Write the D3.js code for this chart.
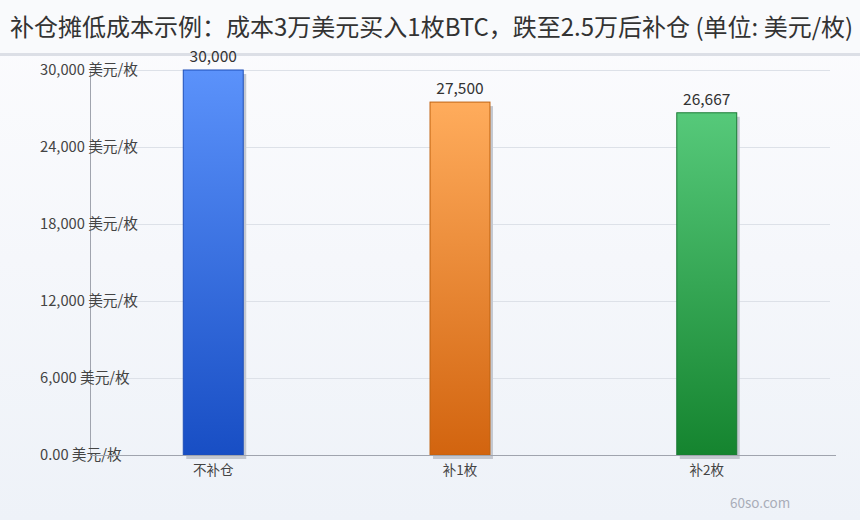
<!DOCTYPE html>
<html>
<head>
<meta charset="utf-8">
<script src="https://cdn.jsdelivr.net/npm/d3@7"></script>
<style>
  html, body { margin: 0; padding: 0; background: #f3f5f9; }
  svg { display: block; font-family: "Noto Sans CJK SC", "Noto Sans", sans-serif; }
</style>
</head>
<body>
<div id="chart"></div>
<script>
const titleText = "补仓摊低成本示例：成本3万美元买入1枚BTC，跌至2.5万后补仓 (单位: 美元/枚)";
const categories = ["不补仓", "补1枚", "补2枚"];
const costValues = [30000, 27500, 26667];
const tickValues = [0, 6000, 12000, 18000, 24000, 30000];
const tickLabels = ["0.00 美元/枚", "6,000 美元/枚", "12,000 美元/枚", "18,000 美元/枚", "24,000 美元/枚", "30,000 美元/枚"];
const barColors = [
    { top: "#5b92fb", bottom: "#184ec4", stroke: "#1f4fb8" },
    { top: "#ffac5c", bottom: "#d2640f", stroke: "#c0620f" },
    { top: "#56c97a", bottom: "#15842f", stroke: "#1a7a35" }
];

var width = 860, height = 520;
var margin = { top: 70, right: 30, bottom: 65, left: 90 };

var svg = d3.select("#chart")
    .append("svg")
    .attr("width", width)
    .attr("height", height);

var defs = svg.append("defs");

var bg = defs.append("linearGradient")
    .attr("id", "bgGrad")
    .attr("x1", 0).attr("y1", 0).attr("x2", 0).attr("y2", 1);
bg.append("stop").attr("offset", "0%").style("stop-color", "#fcfcfe");
bg.append("stop").attr("offset", "100%").style("stop-color", "#eef2f8");

barColors.forEach((c, i) => {
    var g = defs.append("linearGradient")
        .attr("id", "barGrad" + i)
        .attr("x1", 0).attr("y1", 0).attr("x2", 0).attr("y2", 1);
    g.append("stop").attr("offset", "0%").style("stop-color", c.top);
    g.append("stop").attr("offset", "100%").style("stop-color", c.bottom);
});

svg.append("rect")
    .attr("width", width)
    .attr("height", height)
    .style("fill", "url(#bgGrad)");

// title band
svg.append("rect")
    .attr("width", width)
    .attr("height", 53)
    .style("fill", "#f9fafc");

svg.append("rect")
    .attr("y", 53)
    .attr("width", width)
    .attr("height", 3)
    .style("fill", "#dcdfe6");

svg.append("text")
    .attr("x", 10)
    .attr("y", 36)
    .text(titleText)
    .style("fill", "#333")
    .style("font-size", "24px");

var x = d3.scaleBand()
    .domain(categories)
    .range([margin.left, width - margin.right])
    .paddingInner(0.757)
    .paddingOuter(0.378);

var y = d3.scaleLinear()
    .domain([0, 30000])
    .range([height - margin.bottom, margin.top]);

// grid
svg.append("g")
    .selectAll("line")
    .data(tickValues.filter(t => t > 0))
    .join("line")
    .attr("x1", margin.left)
    .attr("x2", width - margin.right)
    .attr("y1", d => y(d))
    .attr("y2", d => y(d))
    .style("stroke", "#dde1e8")
    .style("stroke-width", "1px")
    .style("shape-rendering", "crispEdges");

var yAxis = d3.axisLeft(y)
    .tickValues(tickValues)
    .tickSize(0)
    .tickFormat((d, i) => tickLabels[i]);

var gy = svg.append("g")
    .attr("transform", "translate(" + margin.left + ",0)")
    .call(yAxis);

gy.select("path")
    .style("stroke", "#a0a4ae")
    .style("shape-rendering", "crispEdges");

// labels start at a fixed column left of the axis and overhang it
gy.selectAll(".tick text")
    .attr("x", -50)
    .attr("text-anchor", "start")
    .style("font-family", "\"Noto Sans CJK SC\", sans-serif")
    .style("font-size", "14.7px")
    .style("fill", "#444");

// bars: shadow first
var bars = svg.append("g");

bars.selectAll("rect.shadow")
    .data(costValues)
    .join("rect")
    .attr("class", "shadow")
    .attr("x", (d, i) => x(categories[i]) + 3)
    .attr("y", d => y(d) + 4)
    .attr("width", x.bandwidth())
    .attr("height", d => y(0) - y(d))
    .style("fill", "#c4c8d0");

bars.selectAll("rect.bar")
    .data(costValues)
    .join("rect")
    .attr("class", "bar")
    .attr("x", (d, i) => x(categories[i]))
    .attr("y", d => y(d))
    .attr("width", x.bandwidth())
    .attr("height", d => y(0) - y(d))
    .style("fill", (d, i) => "url(#barGrad" + i + ")")
    .style("stroke", (d, i) => barColors[i].stroke)
    .style("stroke-width", "1px");

bars.selectAll("text.val")
    .data(costValues)
    .join("text")
    .attr("class", "val")
    .attr("x", (d, i) => x(categories[i]) + x.bandwidth() / 2)
    .attr("y", d => y(d) - 8)
    .attr("text-anchor", "middle")
    .text(d => d3.format(",")(d))
    .style("fill", "#333")
    .style("font-size", "15.5px");

// x axis
var xAxis = d3.axisBottom(x).tickSize(0).tickPadding(10);
var gx = svg.append("g")
    .attr("transform", "translate(0," + y(0) + ")")
    .call(xAxis);

gx.select("path")
    .attr("d", "M" + margin.left + ",0.5H" + (width - margin.right + 6))
    .style("stroke", "#a0a4ae");

gx.selectAll(".tick text")
    .style("font-family", "\"Noto Sans CJK SC\", sans-serif")
    .style("font-size", "13.5px")
    .style("fill", "#444");

svg.append("text")
    .attr("x", 730)
    .attr("y", 508)
    .text("60so.com")
    .style("fill", "#a9adb8")
    .style("font-size", "13.5px");
</script>
</body>
</html>
